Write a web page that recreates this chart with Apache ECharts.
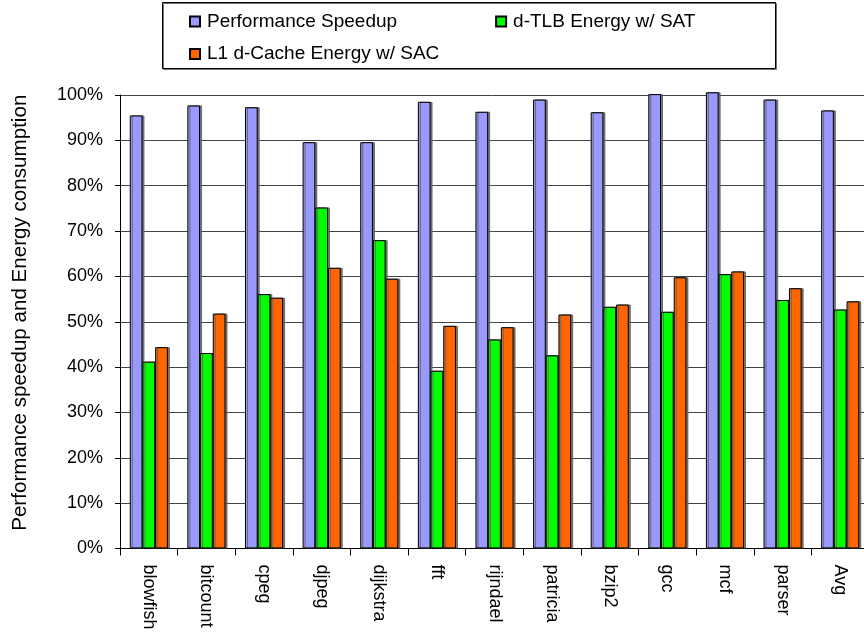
<!DOCTYPE html>
<html>
<head>
<meta charset="utf-8">
<script src="https://cdn.jsdelivr.net/npm/echarts@6/dist/echarts.min.js"></script>
<style>html,body{margin:0;padding:0;background:#fff}#c{width:864px;height:636px}</style>
</head>
<body>
<div id="c"></div>
<script>
const categories = ['blowfish','bitcount','cpeg','djpeg','dijkstra','fft','rijndael','patricia','bzip2','gcc','mcf','parser','Avg'];
const speedup = [95.5, 97.7, 97.3, 89.6, 89.6, 98.5, 96.3, 99.0, 96.2, 100.2, 100.6, 99.0, 96.6];
const tlbEnergy = [41.2, 43.1, 56.1, 75.2, 68.0, 39.2, 46.1, 42.6, 53.3, 52.2, 60.5, 54.8, 52.7];
const cacheEnergy = [44.4, 51.8, 55.3, 61.9, 59.5, 49.1, 48.8, 51.6, 53.8, 59.8, 61.1, 57.4, 54.5];
const yTicks = {min: 0, max: 100, interval: 10};
const seriesNames = ['Performance Speedup', 'd-TLB Energy w/ SAT', 'L1 d-Cache Energy w/ SAC'];
const colors = ['#9999FF', '#00FF00', '#FF6600'];

const FONT = 'Liberation Sans, Arial, sans-serif';
const chart = echarts.init(document.getElementById('c'), null, {renderer: 'canvas'});
const barStyle = (c) => ({
  color: c, borderColor: '#000', borderWidth: 1,
  shadowColor: 'rgba(100,100,100,0.9)', shadowOffsetX: 2, shadowOffsetY: 0, shadowBlur: 0
});
const mk = (i, data) => ({
  name: seriesNames[i], type: 'bar', data: data, barWidth: 12.7, barGap: '0%',
  clip: false, itemStyle: barStyle(colors[i]), animation: false
});
chart.setOption({
  animation: false,
  textStyle: {fontFamily: FONT, color: '#000'},
  grid: {left: 120, right: -5, top: 95, bottom: 87.5, containLabel: false, outerBoundsMode: 'none'},
  legend: [
    {data: [seriesNames[0], seriesNames[1]], left: 189, top: 12, padding: 0, itemGap: 98,
     itemWidth: 10, itemHeight: 10, icon: 'rect',
     textStyle: {fontFamily: FONT, fontSize: 19, color: '#000', padding: [0, 0, 0, 2]}},
    {data: [seriesNames[2]], left: 189, top: 44.5, padding: 0,
     itemWidth: 10, itemHeight: 10, icon: 'rect',
     textStyle: {fontFamily: FONT, fontSize: 19, color: '#000', padding: [0, 0, 0, 2]}}
  ],
  graphic: [{
    type: 'rect', shape: {x: 162.5, y: 2.5, width: 613, height: 66}, z: 10,
    style: {fill: 'none', stroke: '#000', lineWidth: 1,
            shadowColor: 'rgba(100,100,100,0.9)', shadowOffsetX: 1, shadowOffsetY: 1, shadowBlur: 0}
  }],
  xAxis: {
    type: 'category', data: categories, boundaryGap: true,
    axisLine: {lineStyle: {color: '#000', width: 1}},
    axisTick: {show: true, interval: 0, length: 7, lineStyle: {color: '#000'}},
    axisLabel: {interval: 0, rotate: -90, margin: 16, fontSize: 18, color: '#000', fontFamily: FONT,
                align: 'left', verticalAlign: 'middle'},
    splitLine: {show: false}
  },
  yAxis: {
    type: 'value', min: yTicks.min, max: yTicks.max, interval: yTicks.interval,
    name: 'Performance speedup and Energy consumption', nameLocation: 'middle', nameRotate: 90, nameGap: 89,
    nameTextStyle: {fontSize: 20.6, color: '#000', fontFamily: FONT, padding: [0, 0, 0, 18]},
    axisLine: {show: true, lineStyle: {color: '#000', width: 1}},
    axisTick: {show: true, inside: false, length: 5, lineStyle: {color: '#000'}},
    axisLabel: {formatter: '{value}%', margin: 17, fontSize: 18, color: '#000', fontFamily: FONT},
    splitLine: {show: true, lineStyle: {color: '#444', width: 1, type: 'solid'}}
  },
  series: [mk(0, speedup), mk(1, tlbEnergy), mk(2, cacheEnergy)]
});
</script>
</body>
</html>
